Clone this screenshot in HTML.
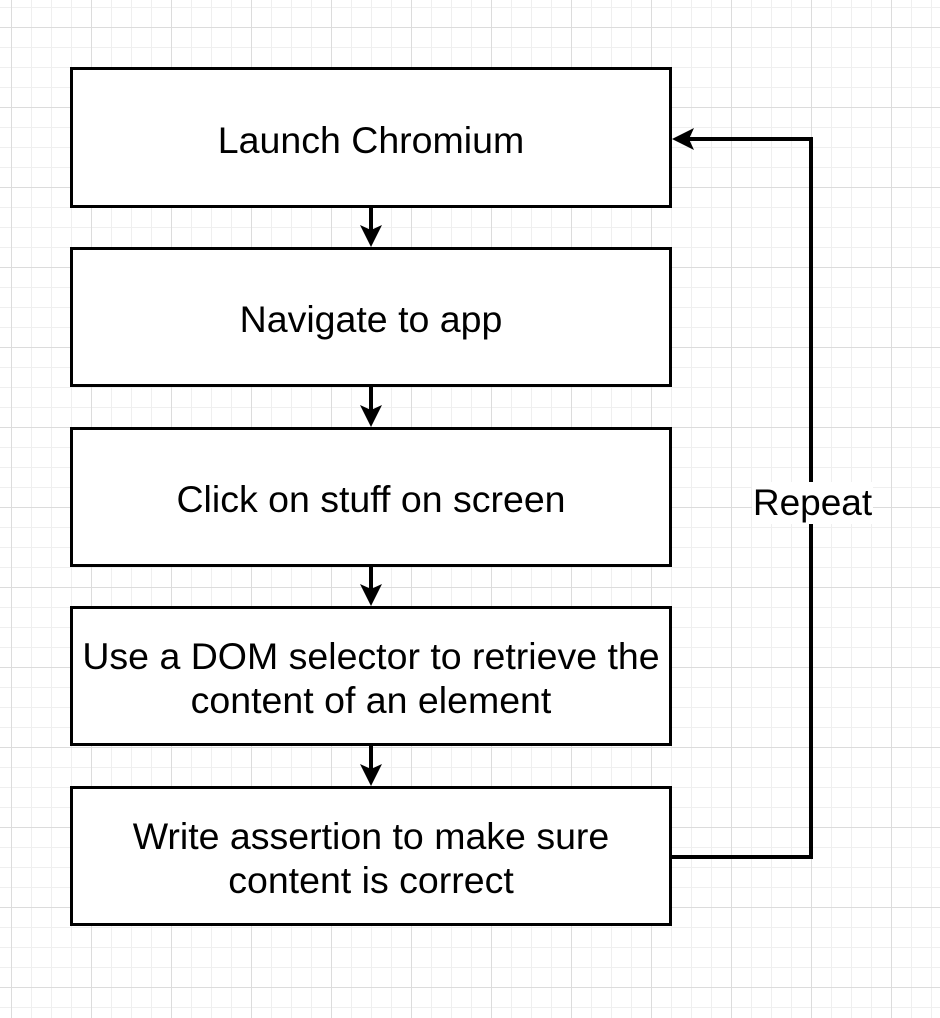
<!DOCTYPE html>
<html><head><style>
html,body{margin:0;padding:0;}
body{width:940px;height:1018px;position:relative;overflow:hidden;background-color:#fff;
background-image:
linear-gradient(#dcdcdc 1px,transparent 1px),
linear-gradient(90deg,#dcdcdc 1px,transparent 1px),
linear-gradient(#efefef 1px,transparent 1px),
linear-gradient(90deg,#efefef 1px,transparent 1px);
background-size:80px 80px,80px 80px,20px 20px,20px 20px;
background-position:0 27px,11px 0,0 7px,11px 0;
font-family:"Liberation Sans",Arial,sans-serif;}
.b{position:absolute;left:70px;width:596px;border:3px solid #000;background:#fff;display:flex;align-items:center;justify-content:center;text-align:center;font-size:37.5px;line-height:44px;color:#000;white-space:nowrap;padding-top:4px;}
svg{position:absolute;left:0;top:0;}
.r{position:absolute;left:752px;top:482px;width:121px;text-align:center;font-size:37px;background:#fff;line-height:42px;}
</style></head><body>
<div class="b" style="top:67px;height:131px">Launch Chromium</div>
<div class="b" style="top:247px;height:130px">Navigate to app</div>
<div class="b" style="top:427px;height:130px">Click on stuff on screen</div>
<div class="b" style="top:606px;height:130px">Use a DOM selector to retrieve the<br>content of an element</div>
<div class="b" style="top:786px;height:130px">Write assertion to make sure<br>content is correct</div>
<svg width="940" height="1018">
<g stroke="#000" stroke-width="4" fill="none">
<line x1="371" y1="208" x2="371" y2="232"/>
<line x1="371" y1="387" x2="371" y2="412"/>
<line x1="371" y1="567" x2="371" y2="591"/>
<line x1="371" y1="746" x2="371" y2="771"/>
<polyline points="672,857 811,857 811,139 688,139"/>
</g>
<g fill="#000">
<polygon points="360,225 371,230 382,225 371,247"/>
<polygon points="360,405 371,410 382,405 371,427"/>
<polygon points="360,584 371,589 382,584 371,606"/>
<polygon points="360,764 371,769 382,764 371,786"/>
<polygon points="694,128 689,139 694,150 672,139"/>
</g>
</svg>
<div class="r">Repeat</div>
</body></html>
